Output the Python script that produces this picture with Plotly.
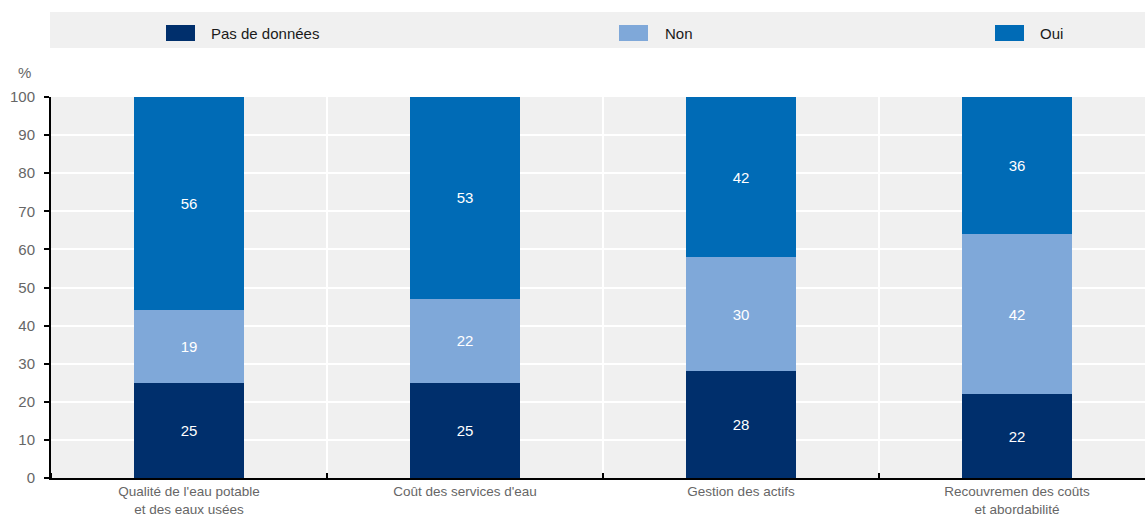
import plotly.graph_objects as go

categories = ["Qualité de l'eau potable<br>et des eaux usées",
              "Coût des services d'eau",
              "Gestion des actifs",
              "Recouvremen des coûts<br>et abordabilité"]
series_names = ["Pas de données", "Non", "Oui"]
pas_de_donnees = [25, 25, 28, 22]
non = [19, 22, 30, 42]
oui = [56, 53, 42, 36]
y_ticks = [0, 10, 20, 30, 40, 50, 60, 70, 80, 90, 100]

colors = ["#002f6c", "#7fa8d9", "#006bb6"]
values = [pas_de_donnees, non, oui]

FONT = "Liberation Sans, Arial, sans-serif"
W, H = 1145, 522
ML, MR, MT, MB = 51, 0, 97, 44
PW, PH = W - ML - MR, H - MT - MB

# plot area is 4 categories of 276 px; the last one is clipped at the right edge
cat_px = 276
x_max = -0.5 + PW / cat_px

fig = go.Figure()
xs = list(range(len(categories)))
for name, vals, col in zip(series_names, values, colors):
    fig.add_trace(go.Bar(
        x=xs, y=vals, name=name, marker=dict(color=col, line=dict(width=0)),
        width=0.4, text=[str(v) for v in vals], textposition="inside",
        insidetextanchor="middle", textangle=0,
        textfont=dict(color="white", size=15, family=FONT),
        showlegend=False, hoverinfo="skip",
    ))

def px_x(p):
    return (p - ML) / PW

def px_y(p):
    return (H - MB - p) / PH

shapes = [dict(type="rect", xref="paper", yref="paper",
               x0=px_x(50), x1=px_x(1145), y0=px_y(48), y1=px_y(12),
               fillcolor="#f0f0f0", line=dict(width=0), layer="below")]
annotations = []
legend_pos = [(166, 209), (619, 663), (995, 1038)]
for (sx, tx), name, col in zip(legend_pos, series_names, colors):
    shapes.append(dict(type="rect", xref="paper", yref="paper",
                       x0=px_x(sx), x1=px_x(sx + 29), y0=px_y(41), y1=px_y(25),
                       fillcolor=col, line=dict(width=0)))
    annotations.append(dict(xref="paper", yref="paper", x=px_x(tx), y=px_y(33),
                            text=name, showarrow=False, xanchor="left",
                            yanchor="middle",
                            font=dict(size=15, color="#1a1a1a", family=FONT)))
annotations.append(dict(xref="paper", yref="paper", x=px_x(33), y=px_y(73),
                        text="%", showarrow=False, xanchor="right", yanchor="middle",
                        font=dict(size=15, color="#666666", family=FONT)))

fig.update_layout(
    width=W, height=H, barmode="stack", bargap=0.6,
    margin=dict(l=ML, r=MR, t=MT, b=MB, pad=0),
    paper_bgcolor="white", plot_bgcolor="#f0f0f0",
    font=dict(family=FONT, size=15, color="#666666"),
    shapes=shapes, annotations=annotations,
    xaxis=dict(range=[-0.5, x_max], tickvals=xs, ticktext=categories,
               showgrid=False, zeroline=False, ticks="",
               showline=True, linecolor="black", linewidth=2,
               tickfont=dict(size=13.5, color="#666666"),
               minor=dict(tick0=0.5, dtick=1, ticks="inside", ticklen=5,
                          tickcolor="black", tickwidth=2,
                          showgrid=True, gridcolor="white", gridwidth=2)),
    yaxis=dict(range=[0, 100], tickvals=y_ticks, showgrid=True,
               gridcolor="white", gridwidth=2, zeroline=False,
               showline=True, linecolor="black", linewidth=2,
               ticks="outside", ticklen=5, tickcolor="black", tickwidth=2,
               ticklabelstandoff=6,
               tickfont=dict(size=15, color="#666666")),
)

fig.write_html("out.html")
